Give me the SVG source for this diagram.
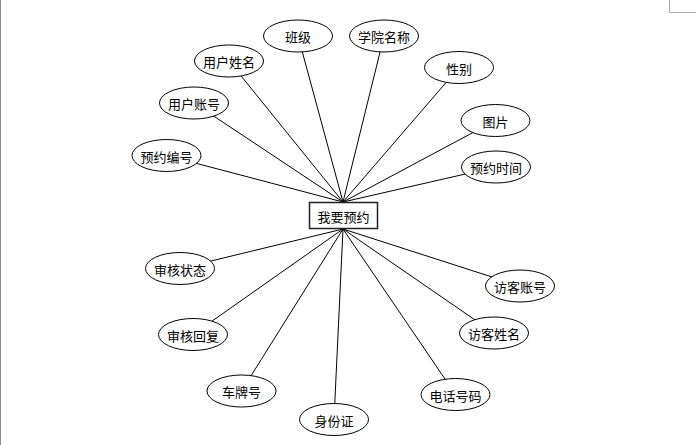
<svg xmlns="http://www.w3.org/2000/svg" width="696" height="445" viewBox="0 0 696 445">
<style>
.bg{fill:#ffffff}
.edge{stroke:#000;stroke-width:1;fill:none}
.attr ellipse{fill:#fff;stroke:#000;stroke-width:1}
.ent rect{fill:#fff;stroke:#222;stroke-width:1.5}
text{font-family:"Noto Sans CJK SC","Noto Sans",sans-serif;font-size:13px;fill:#000;text-anchor:middle;dominant-baseline:central}
.page{stroke:#aaa;stroke-width:1;fill:none}
</style>
<rect class="bg" x="0" y="0" width="696" height="445"/>
<line x1="0.5" y1="0" x2="0.5" y2="445" stroke="#888" stroke-width="1"/>
<path class="page" d="M669.5 0 V12.5 H696"/>
<g id="connectors">
<line class="edge" x1="343" y1="202" x2="298" y2="36"/>
<line class="edge" x1="343" y1="202" x2="384" y2="36"/>
<line class="edge" x1="343" y1="202" x2="229" y2="61"/>
<line class="edge" x1="343" y1="202" x2="459" y2="67.5"/>
<line class="edge" x1="343" y1="202" x2="194" y2="103"/>
<line class="edge" x1="343" y1="202" x2="495.5" y2="120.5"/>
<line class="edge" x1="343" y1="202" x2="166.5" y2="155.5"/>
<line class="edge" x1="343" y1="202" x2="496" y2="167"/>
<line class="edge" x1="343" y1="229" x2="180" y2="268.5"/>
<line class="edge" x1="343" y1="229" x2="520" y2="286"/>
<line class="edge" x1="343" y1="229" x2="193" y2="334.5"/>
<line class="edge" x1="343" y1="229" x2="494" y2="333"/>
<line class="edge" x1="343" y1="229" x2="241.5" y2="391"/>
<line class="edge" x1="343" y1="229" x2="455.5" y2="394.5"/>
<line class="edge" x1="343" y1="229" x2="334" y2="419.5"/>
</g>
<g id="entity" class="ent"><rect x="309.5" y="202.5" width="68" height="26"/><text x="343.5" y="216">我要预约</text></g>
<g id="banji" class="attr"><ellipse cx="298" cy="36" rx="34.5" ry="16"/><text x="298" y="36.5">班级</text></g>
<g id="xueyuan" class="attr"><ellipse cx="384" cy="36" rx="34.5" ry="16"/><text x="384" y="36.5">学院名称</text></g>
<g id="yonghuxingming" class="attr"><ellipse cx="229" cy="61" rx="34.5" ry="16"/><text x="229" y="61.5">用户姓名</text></g>
<g id="xingbie" class="attr"><ellipse cx="459" cy="67.5" rx="34.5" ry="16"/><text x="459" y="68">性别</text></g>
<g id="yonghuzhanghao" class="attr"><ellipse cx="194" cy="103" rx="34.5" ry="16"/><text x="194" y="103.5">用户账号</text></g>
<g id="tupian" class="attr"><ellipse cx="495.5" cy="120.5" rx="34.5" ry="16"/><text x="495.5" y="121">图片</text></g>
<g id="yuyuebianhao" class="attr"><ellipse cx="166.5" cy="155.5" rx="34.5" ry="16"/><text x="166.5" y="156">预约编号</text></g>
<g id="yuyueshijian" class="attr"><ellipse cx="496" cy="167" rx="34.5" ry="16"/><text x="496" y="167.5">预约时间</text></g>
<g id="shenhezhuangtai" class="attr"><ellipse cx="180" cy="268.5" rx="34.5" ry="16"/><text x="180" y="269">审核状态</text></g>
<g id="fangkezhanghao" class="attr"><ellipse cx="520" cy="286" rx="34.5" ry="16"/><text x="520" y="286.5">访客账号</text></g>
<g id="shenhehuifu" class="attr"><ellipse cx="193" cy="334.5" rx="34.5" ry="16"/><text x="193" y="335">审核回复</text></g>
<g id="fangkexingming" class="attr"><ellipse cx="494" cy="333" rx="34.5" ry="16"/><text x="494" y="333.5">访客姓名</text></g>
<g id="chepaihao" class="attr"><ellipse cx="241.5" cy="391" rx="34.5" ry="16"/><text x="241.5" y="391.5">车牌号</text></g>
<g id="dianhua" class="attr"><ellipse cx="455.5" cy="394.5" rx="34.5" ry="16"/><text x="455.5" y="395">电话号码</text></g>
<g id="shenfenzheng" class="attr"><ellipse cx="334" cy="419.5" rx="34.5" ry="16"/><text x="334" y="420">身份证</text></g>
</svg>
